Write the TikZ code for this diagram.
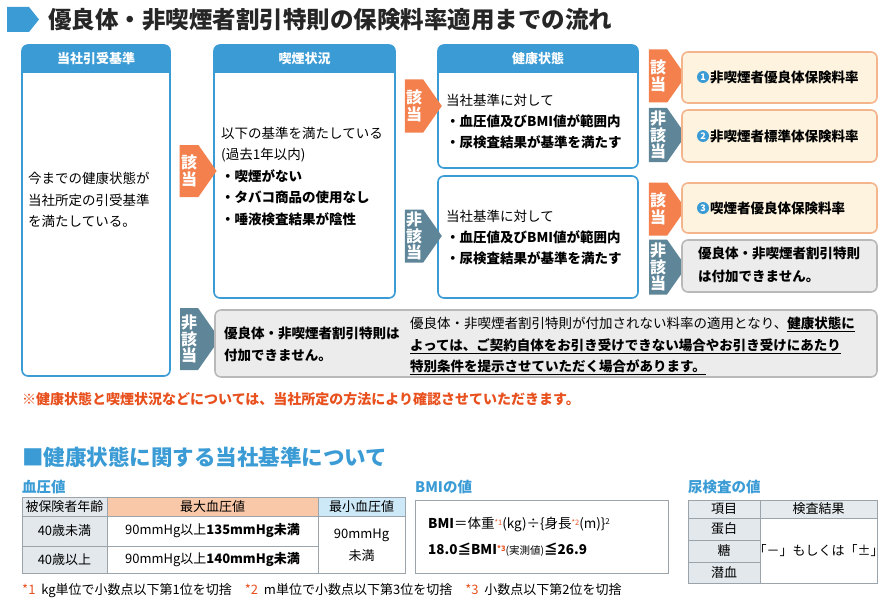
\documentclass[tikz,border=0pt]{standalone}
\usepackage{fontspec}
\setmainfont{Noto Sans CJK JP}
\usetikzlibrary{shapes.symbols}
\definecolor{hdrblue}{HTML}{3A9BD5}
\definecolor{tagorange}{HTML}{F3804D}
\definecolor{taggray}{HTML}{5E8598}
\definecolor{resfill}{HTML}{FDF3DF}
\definecolor{resline}{HTML}{F4B48C}
\definecolor{nofill}{HTML}{ECECEC}
\definecolor{noline}{HTML}{B9B9B9}
\definecolor{notered}{HTML}{E8501E}
\definecolor{cellgray}{HTML}{E3E8EC}
\definecolor{cellsalmon}{HTML}{F9C8A8}
\definecolor{celllblue}{HTML}{CDE9F7}
\definecolor{tblline}{HTML}{9AA4AA}
\tikzset{
  boxline/.style={draw=hdrblue, line width=1.6pt, rounded corners=6pt},
  hdrtext/.style={text=white, font=\bfseries\fontsize{13}{15}\selectfont},
  body/.style={anchor=west, align=left, inner sep=0pt, font=\fontsize{13.5}{21}\selectfont},
  tag/.style={signal, signal to=east, signal pointer angle=110, minimum width=37pt,
    inner sep=1pt, text=white, align=center, font=\bfseries\fontsize{16}{16.5}\selectfont},
  yes/.style={tag, fill=tagorange},
  no/.style={tag, fill=taggray},
  result/.style={draw=resline, fill=resfill, line width=1.6pt, rounded corners=6pt},
  nobox/.style={draw=noline, fill=nofill, line width=1.6pt, rounded corners=6pt},
  num/.style={circle, fill=hdrblue, text=white, inner sep=0pt, minimum size=12pt, font=\bfseries\fontsize{9}{9}\selectfont},
  cell/.style={draw=tblline, line width=0.8pt},
  celltext/.style={font=\fontsize{13}{15}\selectfont},
  sub/.style={text=hdrblue, anchor=west, inner sep=0pt, font=\bfseries\fontsize{14.5}{16}\selectfont},
}
% box with a blue header band
\newcommand{\flowbox}[6]{%
  \begin{scope}
    \clip[rounded corners=6pt] (#2,#3) rectangle (#4,#5);
    \fill[white] (#2,#3) rectangle (#4,#5);
    \ifx\relax#6\relax\else
    \fill[hdrblue] (#2,#3) rectangle (#4,#3+28);
    \node[hdrtext] at ({(#2+#4)/2},#3+14) {#6};
    \fi
  \end{scope}
  \draw[boxline] (#2,#3) rectangle (#4,#5);
  \coordinate (#1) at ({(#2+#4)/2},{(#3+#5)/2});}
\newcommand{\redmark}[1]{\textcolor{notered}{\raisebox{3pt}{\fontsize{7.5}{7.5}\selectfont #1}}}
\begin{document}
\begin{tikzpicture}[x=1pt,y=-1pt]
\useasboundingbox (0,0) rectangle (887,610);
% title
\fill[hdrblue] (7,7) -- (29,7) -- (39,19.5) -- (29,32) -- (7,32) -- cycle;
\node[anchor=west, inner sep=0pt, font=\bfseries\fontsize{23.5}{25}\selectfont, text=black!85] (title) at (48,20) {優良体・非喫煙者割引特則の保険料率適用までの流れ};
% flow boxes
\flowbox{accept}{22}{45}{170}{376}{当社引受基準}
\flowbox{smoke}{214}{45}{395}{298}{喫煙状況}
\flowbox{healthA}{438}{45}{638}{168}{健康状態}
\flowbox{healthB}{438}{176}{638}{298}{}
\node[body, font=\fontsize{13.5}{21.5}\selectfont] (accepttxt) at (28,200) {今までの健康状態が\\当社所定の引受基準\\を満たしている。};
\node[body, font=\fontsize{13.5}{21.5}\selectfont] (smoketxt) at (221,176) {以下の基準を満たしている\\(過去1年以内)\\\textbf{・喫煙がない}\\\textbf{・タバコ商品の使用なし}\\\textbf{・唾液検査結果が陰性}};
\node[body] (healthAtxt) at (446,121) {当社基準に対して\\\textbf{・血圧値及びBMI値が範囲内}\\\textbf{・尿検査結果が基準を満たす}};
\node[body] (healthBtxt) at (446,237) {当社基準に対して\\\textbf{・血圧値及びBMI値が範囲内}\\\textbf{・尿検査結果が基準を満たす}};
% tags
\node[yes, minimum height=52pt] (t1) at (189,171) {該\\当};
\node[no, minimum height=62pt] (t2) at (189,339) {非\\該\\当};
\node[yes, minimum height=53pt] (t3) at (414,106) {該\\当};
\node[no, minimum height=53pt] (t4) at (414,236) {非\\該\\当};
\node[yes, minimum height=53pt] (t5) at (658,76) {該\\当};
\node[no, minimum height=54pt] (t6) at (658,135) {非\\該\\当};
\node[yes, minimum height=53pt] (t7) at (658,209) {該\\当};
\node[no, minimum height=55pt] (t8) at (658,267) {非\\該\\当};
% results
\draw[result] (682,52) rectangle (877,103);
\node[num] (n1) at (703,77) {1};
\node[body, font=\bfseries\fontsize{13.5}{15}\selectfont] (r1) at (710,77) {非喫煙者優良体保険料率};
\draw[result] (682,110) rectangle (877,162);
\node[num] (n2) at (703,136) {2};
\node[body, font=\bfseries\fontsize{13.5}{15}\selectfont] (r2) at (710,136) {非喫煙者標準体保険料率};
\draw[result] (682,183) rectangle (877,233);
\node[num] (n3) at (703,208) {3};
\node[body, font=\bfseries\fontsize{13.5}{15}\selectfont] (r3) at (710,208) {喫煙者優良体保険料率};
\draw[nobox] (682,240) rectangle (877,292);
\node[body, font=\bfseries\fontsize{13.5}{23}\selectfont] (r4) at (698,265) {優良体・非喫煙者割引特則\\は付加できません。};
% no-discount box
\draw[nobox] (215,310) rectangle (877,377);
\node[body, font=\bfseries\fontsize{13.5}{22}\selectfont] (nodisc) at (224,344) {優良体・非喫煙者割引特則は\\付加できません。};
\node[body, font=\fontsize{13.5}{21.5}\selectfont] (nodetail) at (410,346) {優良体・非喫煙者割引特則が付加されない料率の適用となり、\underline{\textbf{健康状態に}}\\\underline{\textbf{よっては、ご契約自体をお引き受けできない場合やお引き受けにあたり}}\\\underline{\textbf{特別条件を提示させていただく場合があります。}}};
% note
\node[body, text=notered, font=\bfseries\fontsize{14}{16}\selectfont] (note) at (22,399) {※健康状態と喫煙状況などについては、当社所定の方法により確認させていただきます。};
% section heading
\node[body, text=hdrblue, font=\bfseries\fontsize{21.5}{23}\selectfont] (sect) at (22,457) {■健康状態に関する当社基準について};
% blood pressure table
\node[sub] (bp) at (22,487) {血圧値};
\fill[cellgray] (22,497) rectangle (107,573);
\fill[cellsalmon] (107,497) rectangle (318,516);
\fill[celllblue] (318,497) rectangle (405,516);
\draw[cell] (22,497) rectangle (405,573);
\draw[cell] (107,497) -- (107,573) (318,497) -- (318,573);
\draw[cell] (22,516) -- (405,516) (22,546) -- (318,546);
\node[celltext] (bph1) at (64.5,506.5) {被保険者年齢};
\node[celltext] (bph2) at (212.5,506.5) {最大血圧値};
\node[celltext] (bph3) at (361.5,506.5) {最小血圧値};
\node[celltext] (bpa1) at (64.5,531) {40歳未満};
\node[celltext] (bpa2) at (64.5,559.5) {40歳以上};
\node[celltext] (bpm1) at (212.5,531) {90mmHg以上\textbf{135mmHg未満}};
\node[celltext] (bpm2) at (212.5,559.5) {90mmHg以上\textbf{140mmHg未満}};
\node[celltext, align=center, font=\fontsize{13}{22}\selectfont] (bpmin) at (361.5,545) {90mmHg\\未満};
% BMI
\node[sub] (bmi) at (415,487) {BMIの値};
\draw[cell] (415,500) rectangle (668,573);
\node[body, font=\fontsize{13.5}{15}\selectfont] (bmi1) at (428,524) {\textbf{BMI}＝体重\redmark{*1}(kg)÷\{身長\redmark{*2}(m)\}\raisebox{4pt}{\fontsize{8}{8}\selectfont 2}};
\node[body, font=\bfseries\fontsize{13.5}{15}\selectfont] (bmi2) at (428,550) {18.0≦BMI\redmark{*3}{\mdseries\fontsize{10.5}{12}\selectfont (実測値)}≦26.9};
% urine table
\node[sub] (urine) at (688,487) {尿検査の値};
\fill[cellgray] (688,500) rectangle (760,583);
\fill[cellgray!70!taggray!40] (688,500) rectangle (877,518);
\draw[cell] (688,500) rectangle (877,583);
\draw[cell] (760,500) -- (760,583) (688,518) -- (877,518) (688,540) -- (760,540) (688,562) -- (760,562);
\node[celltext] (uh1) at (724,509) {項目};
\node[celltext] (uh2) at (818.5,509) {検査結果};
\node[celltext] (u1) at (724,529) {蛋白};
\node[celltext] (u2) at (724,551) {糖};
\node[celltext] (u3) at (724,572.5) {潜血};
\node[celltext] (ures) at (818.5,550.5) {「－」もしくは「±」};
% footnote
\node[body, font=\fontsize{13}{15}\selectfont] (foot) at (22,591) {\textcolor{notered}{*1}\ \ kg単位で小数点以下第1位を切捨\quad \textcolor{notered}{*2}\ \ m単位で小数点以下第3位を切捨\quad \textcolor{notered}{*3}\ \ 小数点以下第2位を切捨};
\end{tikzpicture}
\end{document}
